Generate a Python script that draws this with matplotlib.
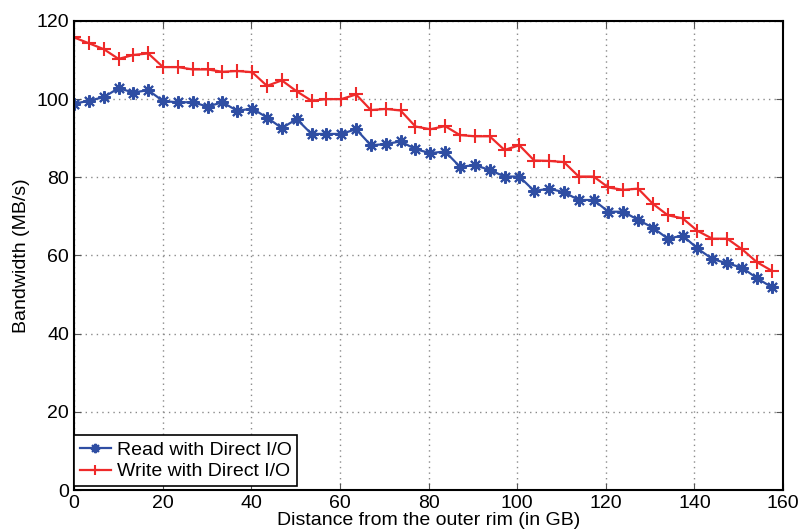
import numpy as np
import matplotlib.pyplot as plt

plt.rcParams['font.family'] = ['Liberation Sans', 'DejaVu Sans']

# sample positions along the disk (GB from outer rim)
dist = np.arange(48) * 3.35

read_bw = [98.8, 99.6, 100.5, 102.8, 101.7, 102.3, 99.5, 99.2, 99.2, 98.1,
           99.2, 97.0, 97.6, 95.3, 92.6, 94.9, 91.1, 91.1, 91.1, 92.3,
           88.2, 88.5, 89.2, 87.2, 86.2, 86.6, 82.7, 83.1, 81.9, 80.2,
           80.2, 76.5, 77.1, 76.2, 74.2, 74.2, 71.2, 71.2, 69.1, 67.1,
           64.3, 65.1, 61.8, 59.1, 58.0, 56.9, 54.2, 51.9]
write_bw = [115.8, 114.3, 112.8, 110.3, 111.3, 111.7, 108.2, 108.2, 107.6, 107.6,
            107.0, 107.2, 106.9, 103.4, 104.8, 102.0, 99.6, 100.0, 100.0, 101.2,
            97.2, 97.5, 97.1, 93.0, 92.3, 93.1, 90.8, 90.5, 90.5, 87.0,
            88.2, 84.3, 84.2, 83.9, 80.2, 80.2, 77.4, 76.8, 77.1, 73.2,
            70.3, 69.5, 66.3, 64.3, 64.3, 61.6, 58.3, 56.1]

fig = plt.figure(figsize=(7.99, 5.31), dpi=100)
ax = fig.add_axes([0.0926, 0.0772, 0.8874, 0.8833])

ax.plot(dist, read_bw, color='#2f4ea3', lw=1.6, marker=(8, 2, 0), ms=9,
        mew=1.5, label='Read with Direct I/O')
ax.plot(dist, write_bw, color='#ee2a2a', lw=1.6, marker='+', ms=10,
        mew=1.5, label='Write with Direct I/O')

ax.set_xlim(0, 160)
ax.set_ylim(0, 120)
ax.set_xticks(range(0, 161, 20))
ax.set_yticks(range(0, 121, 20))
ax.tick_params(direction='in', top=True, right=True, labelsize=14, length=5,
               width=0.8, colors='#555555', labelcolor='black')
ax.grid(True, linestyle=(0, (1, 3)), color='#8a8a8a', lw=1.0)
for s in ax.spines.values():
    s.set_linewidth(1.5)
    s.set_color('black')

ax.set_xlabel('Distance from the outer rim (in GB)', fontsize=14, labelpad=0)
ax.set_ylabel('Bandwidth (MB/s)', fontsize=14, labelpad=5)

leg = ax.legend(loc='lower left', bbox_to_anchor=(0.0, 0.008), fontsize=14,
                fancybox=False, framealpha=1, edgecolor='black',
                borderaxespad=0.0, handlelength=1.6, handletextpad=0.3,
                borderpad=0.3, labelspacing=0.2, markerscale=0.75)
leg.get_frame().set_linewidth(1.2)

fig.savefig('out.png', dpi=100)
